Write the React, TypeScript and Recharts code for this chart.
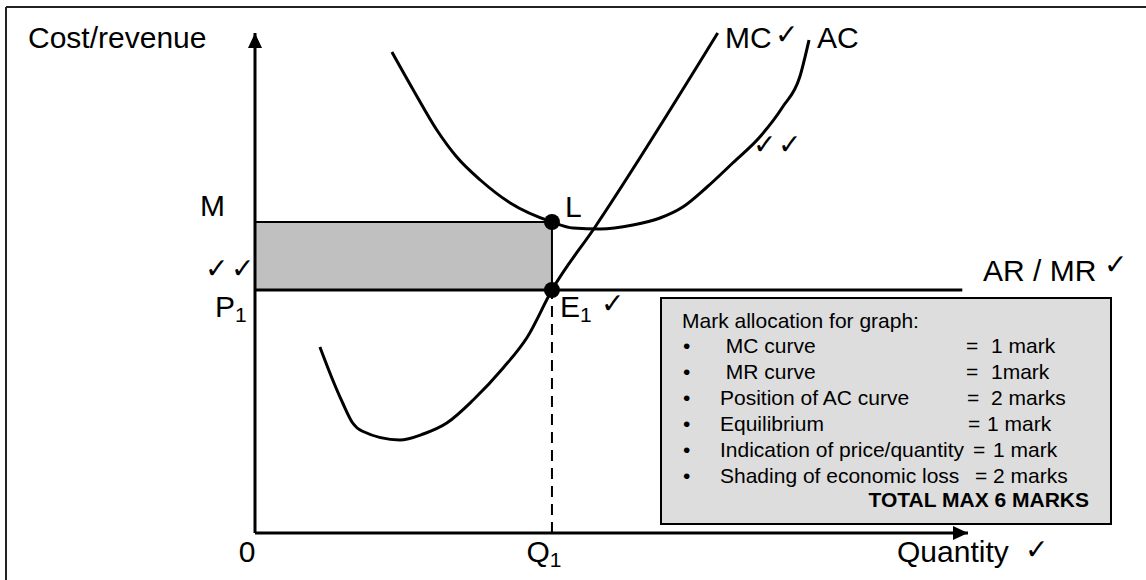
import React from "react";
import {
  ComposedChart,
  Line,
  XAxis,
  YAxis,
  ReferenceArea,
  ReferenceLine,
  ReferenceDot,
} from "recharts";

// key levels on the graph (quantity 0-100, cost 0-100)
const Q1 = 41.65;
const P1 = 48.6;
const M = 62.2;

// marginal cost curve
const mcQty = [9.1, 10.9, 12.3, 13.7, 15.0, 20.3, 23.6, 26.9, 30.6, 34.8, 38.2, Q1, 47.7, 64.9];
const mcCost = [37.2, 30.6, 26, 22, 20.4, 18.6, 19.8, 22, 26.6, 33, 39.2, P1, 61.2, 100];

// average cost curve
const acQty = [19.2, 22.2, 25.5, 28.3, 31.6, 35.8, Q1, 44.6, 48.4, 53.0, 56.8, 60.0, 63.4, 67.0, 70.8, 74.0, 76.4, 77.7];
const acCost = [96.2, 88.6, 80.6, 75.2, 70.6, 66, M, 61, 60.8, 61.6, 63, 65.2, 69.2, 74, 79.2, 85.2, 91.2, 98.6];

// AR / MR line
const mrQty = [0, 99.2];
const mrCost = [P1, P1];

const xTicks = [0, Q1];
const xTickLabels = [["0", ""], ["Q", "1"]];
const yTicks = [P1, M];
const yTickLabels = [["P", "1"], ["M", ""]];

const boxTitle = "Mark allocation for graph:";
const boxItems = [
  " MC curve",
  " MR curve",
  "Position of AC curve",
  "Equilibrium",
  "Indication of price/quantity",
  "Shading of economic loss",
];
const boxMarks = ["1 mark", "1mark", "2 marks", "1 mark", "1 mark", "2 marks"];
const boxTotal = "TOTAL MAX 6 MARKS";

const toPoints = (xs: number[], ys: number[]) => xs.map((x, i) => ({ x, y: ys[i] }));

const mcData = toPoints(mcQty, mcCost);
const acData = toPoints(acQty, acCost);
const mrData = toPoints(mrQty, mrCost);

const FONT = "'Liberation Sans', Arial, sans-serif";
const CHECK = "'DejaVu Sans', sans-serif";

const XTick = (props: any) => {
  const [main, sub] = xTickLabels[props.index] ?? ["", ""];
  return (
    <text x={props.x - 8} y={562} textAnchor="middle" fontSize={30} fontFamily={FONT} fill="#000">
      <tspan>{main}</tspan>
      {sub && (
        <tspan fontSize={21} dy={5}>
          {sub}
        </tspan>
      )}
    </text>
  );
};

const yTickPos = [
  { x: 215, dy: 27 },
  { x: 200, dy: -6 },
];

const YTick = (props: any) => {
  const [main, sub] = yTickLabels[props.index] ?? ["", ""];
  const pos = yTickPos[props.index] ?? { x: 200, dy: 0 };
  return (
    <text x={pos.x} y={props.y + pos.dy} fontSize={30} fontFamily={FONT} fill="#000">
      <tspan>{main}</tspan>
      {sub && (
        <tspan fontSize={21} dy={5}>
          {sub}
        </tspan>
      )}
    </text>
  );
};

const UpArrow = (p: any) => (
  <polygon points={`${p.cx},${p.cy} ${p.cx - 7},${p.cy + 15} ${p.cx + 7},${p.cy + 15}`} fill="#000" />
);
const RightArrow = (p: any) => (
  <polygon points={`${p.cx},${p.cy} ${p.cx - 15},${p.cy - 7} ${p.cx - 15},${p.cy + 7}`} fill="#000" />
);

const Check = ({ x, y }: { x: number; y: number }) => (
  <text x={x} y={y} fontSize={28} fontFamily={CHECK} fill="#000">
    ✓
  </text>
);

const eqX = [966, 966, 967, 968, 973, 975];
const markX = [991, 991, 991, 987, 993, 993];

export default function App() {
  return (
    <div
      style={{
        position: "absolute",
        left: 0,
        top: 0,
        width: 1146,
        height: 580,
        background: "#fff",
        overflow: "hidden",
      }}
    >
      <ComposedChart
        width={1146}
        height={580}
        margin={{ top: 33, right: 178, bottom: 7, left: 195 }}
      >
        <XAxis
          type="number"
          dataKey="x"
          domain={[0, 100]}
          ticks={xTicks}
          interval={0}
          tickLine={false}
          axisLine={{ stroke: "#000", strokeWidth: 3 }}
          tick={(p: any) => <XTick {...p} />}
          height={40}
        />
        <YAxis
          type="number"
          dataKey="y"
          domain={[0, 100]}
          ticks={yTicks}
          interval={0}
          tickLine={false}
          axisLine={{ stroke: "#000", strokeWidth: 3 }}
          tick={(p: any) => <YTick {...p} />}
          width={60}
        />
        <ReferenceArea
          x1={0}
          x2={Q1}
          y1={P1}
          y2={M}
          fill="#c0c0c0"
          fillOpacity={1}
          stroke="#000"
          strokeWidth={2}
        />
        <ReferenceLine
          segment={[
            { x: Q1, y: 0 },
            { x: Q1, y: P1 },
          ]}
          stroke="#000"
          strokeWidth={2}
          strokeDasharray="11 7"
        />
        <Line
          data={mrData}
          dataKey="y"
          type="linear"
          stroke="#000"
          strokeWidth={3}
          dot={false}
          isAnimationActive={false}
        />
        <Line
          data={mcData}
          dataKey="y"
          type="monotone"
          stroke="#000"
          strokeWidth={3}
          dot={false}
          isAnimationActive={false}
        />
        <Line
          data={acData}
          dataKey="y"
          type="monotone"
          stroke="#000"
          strokeWidth={3}
          dot={false}
          isAnimationActive={false}
        />
        <ReferenceDot x={Q1} y={M} r={8} fill="#000" stroke="none" />
        <ReferenceDot x={Q1} y={P1} r={8} fill="#000" stroke="none" />
        <ReferenceDot x={0} y={100} shape={UpArrow} />
        <ReferenceDot x={100} y={0} shape={RightArrow} />
      </ComposedChart>

      <svg
        width={1146}
        height={580}
        style={{ position: "absolute", left: 0, top: 0, pointerEvents: "none" }}
        fontFamily={FONT}
      >
        <line x1={6} y1={7} x2={6} y2={580} stroke="#222" strokeWidth={2} />
        <line x1={6} y1={7} x2={1146} y2={7} stroke="#222" strokeWidth={2} />

        <text x={28} y={48} fontSize={30}>Cost/revenue</text>
        <text x={897} y={562} fontSize={30}>Quantity</text>
        <Check x={1025} y={559} />
        <text x={725} y={48} fontSize={30}>MC</text>
        <Check x={775} y={44} />
        <text x={817} y={48} fontSize={30}>AC</text>
        <Check x={753} y={154} />
        <Check x={778} y={154} />
        <text x={983} y={281} fontSize={30}>AR / MR</text>
        <Check x={1104} y={274} />
        <Check x={205} y={278} />
        <Check x={231} y={278} />
        <text x={565} y={217} fontSize={30}>L</text>
        <text x={560} y={317} fontSize={30}>
          E<tspan fontSize={21} dy={5}>1</tspan>
        </text>
        <Check x={601} y={313} />

        <rect x={661} y={298} width={450} height={226} fill="#dddddd" stroke="#000" strokeWidth={2} />
        <text x={682} y={328} fontSize={21}>{boxTitle}</text>
        {boxItems.map((label, i) => {
          const y = 353 + i * 26;
          return (
            <g key={label}>
              <text x={683} y={y} fontSize={21}>•</text>
              <text x={720} y={y} fontSize={21} style={{ whiteSpace: "pre" }}>
                {label}
              </text>
              <text x={eqX[i]} y={y} fontSize={21}>=</text>
              <text x={markX[i]} y={y} fontSize={21}>{boxMarks[i]}</text>
            </g>
          );
        })}
        <text x={1089} y={507} fontSize={21} fontWeight="bold" textAnchor="end">
          {boxTotal}
        </text>
      </svg>
    </div>
  );
}
